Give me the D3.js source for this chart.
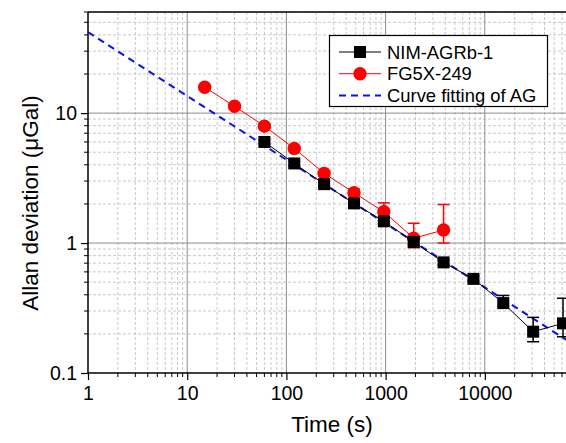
<!DOCTYPE html>
<html>
<head>
<meta charset="utf-8">
<script src="https://cdn.jsdelivr.net/npm/d3@7"></script>
<style>
  body { margin: 0; background: #fff; }
  text { font-family: "Liberation Sans", Arial, sans-serif; }
</style>
</head>
<body>
<div id="chart"></div>
<script>
// data
var nimTime = [60, 120, 240, 480, 960, 1920, 3840, 7680, 15360, 30720, 61440];
var nimDev  = [6.0, 4.1, 2.84, 2.02, 1.47, 1.02, 0.71, 0.53, 0.345, 0.208, 0.241];
var nimLo   = [5.8, 3.95, 2.75, 1.95, 1.40, 0.97, 0.68, 0.51, 0.325, 0.174, 0.19];
var nimHi   = [6.2, 4.25, 2.95, 2.10, 1.55, 1.07, 0.74, 0.56, 0.395, 0.268, 0.376];

var fgTime = [15, 30, 60, 120, 240, 480, 960, 1920, 3840];
var fgDev  = [15.8, 11.3, 7.94, 5.35, 3.44, 2.44, 1.74, 1.09, 1.26];
var fgLo   = [15.3, 10.9, 7.7, 5.15, 3.3, 2.3, 1.48, 0.92, 1.0];
var fgHi   = [16.3, 11.7, 8.2, 5.55, 3.6, 2.6, 2.04, 1.42, 1.98];

// endpoints of the fitted line (straight on log-log)
var fitTime = [1, 100000];
var fitDev  = [42, 0.147];

var xTicks = [1, 10, 100, 1000, 10000];
var yTicks = [0.1, 1, 10];

var width = 566, height = 443;
var plot = {left: 88, top: 12, bottom: 373};

var svg = d3.select("#chart").append("svg")
    .attr("width", width).attr("height", height);

var x = d3.scaleLog().domain([1, 100000]).range([plot.left, plot.left + 5 * 99.2]);
var y = d3.scaleLog().domain([0.1, 60]).range([plot.bottom, plot.top]);

// minor tick values
var xMinor = [], yMinor = [];
xTicks.forEach(function(d) {
    for (var k = 2; k <= 9; k++) xMinor.push(d * k);
});
yTicks.forEach(function(d) {
    for (var k = 2; k <= 9; k++) if (d * k <= 60) yMinor.push(d * k);
});

// clip for plot contents
svg.append("clipPath").attr("id", "clip").append("rect")
    .attr("x", plot.left).attr("y", plot.top)
    .attr("width", width - plot.left).attr("height", plot.bottom - plot.top);

var grid = svg.append("g").attr("clip-path", "url(#clip)");

// minor grid
grid.selectAll(".gx2").data(xMinor).enter().append("line")
    .attr("x1", function(d) { return x(d); }).attr("x2", function(d) { return x(d); })
    .attr("y1", plot.top).attr("y2", plot.bottom)
    .attr("stroke", "#c8c8c8").attr("stroke-width", 1).attr("stroke-dasharray", "3,2");
grid.selectAll(".gy2").data(yMinor).enter().append("line")
    .attr("y1", function(d) { return y(d); }).attr("y2", function(d) { return y(d); })
    .attr("x1", plot.left).attr("x2", width)
    .attr("stroke", "#c8c8c8").attr("stroke-width", 1).attr("stroke-dasharray", "3,2");

// major grid
grid.selectAll(".gx").data(xTicks.slice(1)).enter().append("line")
    .attr("x1", function(d) { return x(d); }).attr("x2", function(d) { return x(d); })
    .attr("y1", plot.top).attr("y2", plot.bottom)
    .attr("stroke", "#8c8c8c").attr("stroke-width", 1);
grid.selectAll(".gy").data(yTicks.slice(1)).enter().append("line")
    .attr("y1", function(d) { return y(d); }).attr("y2", function(d) { return y(d); })
    .attr("x1", plot.left).attr("x2", width)
    .attr("stroke", "#8c8c8c").attr("stroke-width", 1);

// axes
var xaxis = d3.axisBottom(x).tickValues(xTicks).tickFormat(d3.format("d")).tickSize(7).tickPadding(6);
var gx = svg.append("g").attr("transform", "translate(0," + plot.bottom + ")").call(xaxis);
gx.append("g").selectAll("line").data(xMinor).enter().append("line")
    .attr("x1", function(d) { return x(d); }).attr("x2", function(d) { return x(d); })
    .attr("y1", 0).attr("y2", 4).attr("stroke", "#000");

var yaxis = d3.axisLeft(y).tickValues(yTicks).tickFormat(function(d) { return d < 1 ? "0.1" : d3.format("d")(d); })
    .tickSize(7).tickPadding(4);
var gy = svg.append("g").attr("transform", "translate(" + plot.left + ",0)").call(yaxis);
gy.append("g").selectAll("line").data(yMinor).enter().append("line")
    .attr("y1", function(d) { return y(d); }).attr("y2", function(d) { return y(d); })
    .attr("x1", 0).attr("x2", -4).attr("stroke", "#000");

[gx, gy].forEach(function(g) {
    g.select(".domain").attr("stroke", "#000").attr("stroke-width", 1.5);
    g.selectAll(".tick line").attr("stroke", "#000").attr("stroke-width", 1.2);
    g.selectAll(".tick text").attr("fill", "#000")
        .style("font-size", "19.5px").style("font-family", "'Liberation Sans', Arial, sans-serif");
});
gx.select(".domain").attr("d", "M" + plot.left + ",0H" + width);
gy.select(".domain").attr("d", "M0," + plot.top + "V" + plot.bottom);

// top frame
svg.append("line").attr("x1", plot.left).attr("x2", width)
    .attr("y1", plot.top).attr("y2", plot.top).attr("stroke", "#000").attr("stroke-width", 1.5);

var marks = svg.append("g").attr("clip-path", "url(#clip)");

// fitted curve
marks.append("path")
    .datum(fitTime.map(function(t, i) { return [t, fitDev[i]]; }))
    .attr("d", d3.line().x(function(d) { return x(d[0]); }).y(function(d) { return y(d[1]); }))
    .attr("fill", "none").attr("stroke", "#1010e8").attr("stroke-width", 2).attr("stroke-dasharray", "7,5");

function series(times, devs, lo, hi, color, shape) {
    var pts = times.map(function(t, i) { return {t: t, v: devs[i], lo: lo[i], hi: hi[i]}; });
    var g = marks.append("g");
    g.append("path").datum(pts)
        .attr("d", d3.line().x(function(d) { return x(d.t); }).y(function(d) { return y(d.v); }))
        .attr("fill", "none").attr("stroke", color).attr("stroke-width", 1);
    var eb = g.selectAll(".eb").data(pts).enter().append("g");
    eb.append("line")
        .attr("x1", function(d) { return x(d.t); }).attr("x2", function(d) { return x(d.t); })
        .attr("y1", function(d) { return y(d.lo); }).attr("y2", function(d) { return y(d.hi); })
        .attr("stroke", color).attr("stroke-width", 1.5);
    ["lo", "hi"].forEach(function(k) {
        eb.append("line")
            .attr("x1", function(d) { return x(d.t) - 6; }).attr("x2", function(d) { return x(d.t) + 6; })
            .attr("y1", function(d) { return y(d[k]); }).attr("y2", function(d) { return y(d[k]); })
            .attr("stroke", color).attr("stroke-width", 1.5);
    });
    if (shape === "square") {
        g.selectAll(".m").data(pts).enter().append("rect")
            .attr("x", function(d) { return x(d.t) - 6; }).attr("y", function(d) { return y(d.v) - 6; })
            .attr("width", 12).attr("height", 12).attr("fill", color);
    } else {
        g.selectAll(".m").data(pts).enter().append("circle")
            .attr("cx", function(d) { return x(d.t); }).attr("cy", function(d) { return y(d.v); })
            .attr("r", 6.7).attr("fill", color);
    }
}

series(fgTime, fgDev, fgLo, fgHi, "#ff0000", "circle");
series(nimTime, nimDev, nimLo, nimHi, "#000000", "square");

// legend
var lg = svg.append("g");
lg.append("rect").attr("x", 329.5).attr("y", 35.5).attr("width", 218).attr("height", 71)
    .attr("fill", "#fff").attr("stroke", "#000").attr("stroke-width", 1.2);
var rows = [
    {name: "NIM-AGRb-1", color: "#000", shape: "square"},
    {name: "FG5X-249", color: "#ff0000", shape: "circle"},
    {name: "Curve fitting of AG", color: "#1010e8", shape: "dash"}
];
rows.forEach(function(r, i) {
    var yy = 52 + i * 21.7;
    var ln = lg.append("line").attr("x1", 339).attr("x2", 381).attr("y1", yy).attr("y2", yy)
        .attr("stroke", r.color);
    if (r.shape === "dash") {
        ln.attr("stroke-width", 2).attr("stroke-dasharray", "7,5");
    } else if (r.shape === "square") {
        lg.append("rect").attr("x", 354).attr("y", yy - 6).attr("width", 12).attr("height", 12).attr("fill", r.color);
    } else {
        lg.append("circle").attr("cx", 360).attr("cy", yy).attr("r", 6.7).attr("fill", r.color);
    }
    lg.append("text").attr("x", 387).attr("y", yy + 6.5).text(r.name)
        .style("font-size", "18.4px").attr("fill", "#000");
});

// axis titles
svg.append("text").text("Time (s)")
    .attr("x", 332).attr("y", 432).attr("text-anchor", "middle")
    .style("font-size", "22.5px");
svg.append("text").text("Allan deviation (\u03bcGal)")
    .attr("transform", "translate(38,203) rotate(-90)").attr("text-anchor", "middle")
    .style("font-size", "22.5px");
</script>
</body>
</html>
